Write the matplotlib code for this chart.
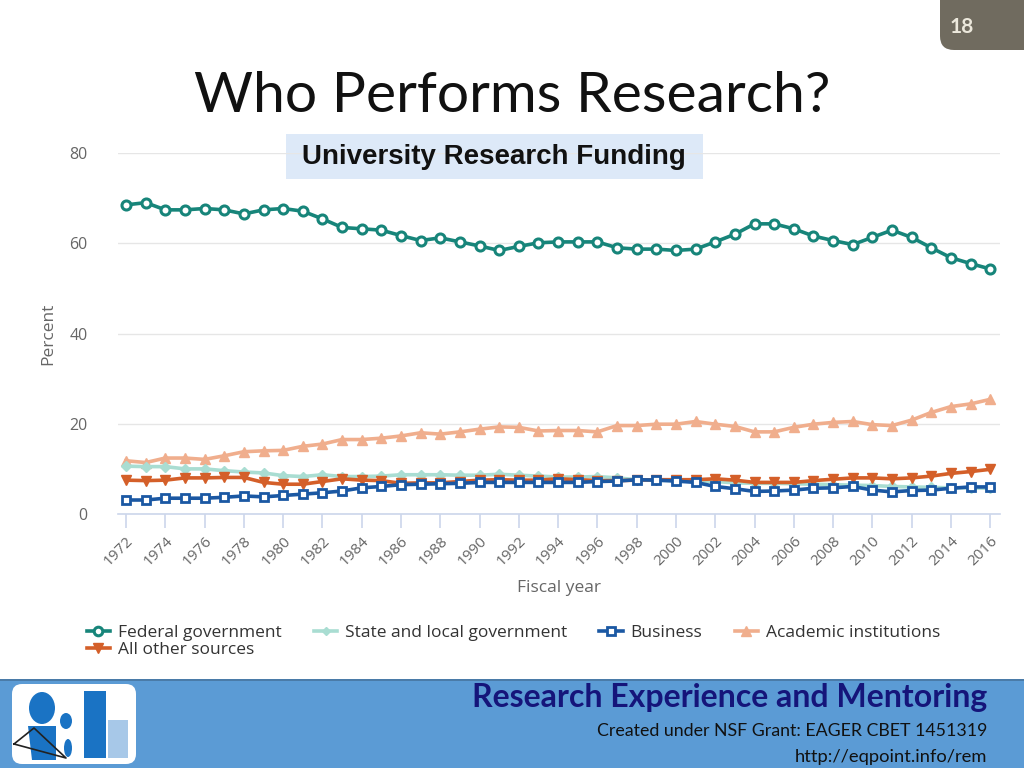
import matplotlib
matplotlib.use("Agg")
import matplotlib.pyplot as plt
from matplotlib.patches import FancyBboxPatch, Rectangle, Ellipse, Polygon

years = list(range(1972, 2017))

federal = [68.5, 69.0, 67.4, 67.4, 67.7, 67.4, 66.5, 67.4, 67.7, 67.1,
           65.4, 63.5, 63.2, 62.9, 61.7, 60.6, 61.2, 60.3, 59.4, 58.4,
           59.3, 60.1, 60.3, 60.3, 60.3, 59.0, 58.7, 58.7, 58.4, 58.7,
           60.3, 62.0, 64.3, 64.3, 63.2, 61.6, 60.6, 59.7, 61.3, 62.9,
           61.3, 59.0, 56.8, 55.5, 54.3]
state_local = [10.6, 10.5, 10.5, 10.0, 10.0, 9.6, 9.3, 9.1, 8.5, 8.3,
               8.7, 8.3, 8.3, 8.4, 8.7, 8.7, 8.7, 8.6, 8.6, 8.8,
               8.6, 8.4, 8.2, 8.2, 8.3, 8.0, 7.6, 7.5, 7.4, 7.3,
               7.2, 6.9, 6.8, 6.8, 6.7, 6.6, 6.5, 6.4, 6.3, 6.1,
               6.0, 5.9, 5.8, 5.8, 5.7]
business = [3.1, 3.1, 3.5, 3.5, 3.5, 3.7, 4.0, 3.8, 4.1, 4.4,
            4.7, 5.1, 5.8, 6.1, 6.5, 6.6, 6.7, 6.8, 7.0, 7.0,
            7.0, 7.0, 7.0, 7.0, 7.2, 7.3, 7.6, 7.5, 7.3, 7.0,
            6.1, 5.6, 5.0, 5.1, 5.3, 5.7, 5.8, 6.1, 5.3, 4.9,
            5.2, 5.3, 5.7, 6.0, 6.0]
academic = [11.8, 11.4, 12.4, 12.4, 12.1, 12.9, 13.8, 14.0, 14.1, 15.0,
            15.5, 16.5, 16.5, 16.8, 17.3, 18.0, 17.7, 18.2, 18.8, 19.3,
            19.2, 18.4, 18.5, 18.5, 18.2, 19.6, 19.6, 19.9, 19.9, 20.5,
            19.9, 19.4, 18.2, 18.2, 19.2, 19.9, 20.3, 20.5, 19.8, 19.6,
            20.8, 22.5, 23.8, 24.4, 25.4]
other = [7.5, 7.4, 7.5, 8.0, 8.0, 8.1, 8.1, 7.0, 6.6, 6.6,
         7.2, 7.8, 7.5, 7.4, 6.8, 6.9, 6.9, 7.2, 7.5, 7.6,
         7.5, 7.5, 7.8, 7.6, 7.4, 7.4, 7.5, 7.6, 7.6, 7.6,
         7.8, 7.5, 7.0, 7.0, 7.0, 7.4, 7.7, 8.0, 8.0, 7.8,
         8.0, 8.4, 9.0, 9.4, 9.9]

series_names = ["Federal government", "State and local government", "Business",
                "Academic institutions", "All other sources"]
tick_years = list(range(1972, 2017, 2))
y_ticks = [0, 20, 40, 60, 80]

title = "Who Performs Research?"
subtitle = "University Research Funding"
page_no = "18"
footer1 = "Research Experience and Mentoring"
footer2 = "Created under NSF Grant: EAGER CBET 1451319"
footer3 = "http://eqpoint.info/rem"

c_fed = "#17857a"
c_state = "#a9ddd2"
c_bus = "#1b58a3"
c_acad = "#f0ae8d"
c_other = "#d45f29"

fig = plt.figure(figsize=(10.24, 7.68), dpi=100)
fig.patch.set_facecolor("white")

# decoration layer in pixel coordinates
deco = fig.add_axes([0, 0, 1, 1], zorder=0)
deco.set_xlim(0, 1024)
deco.set_ylim(768, 0)
deco.axis("off")

ax = fig.add_axes([118 / 1024, 1 - 514 / 768, 882 / 1024, 361 / 768], zorder=2)
ax.patch.set_alpha(0)
lw = 2.6
ax.plot(years, academic, color=c_acad, lw=lw, marker="^", ms=7.5, mfc=c_acad, mec=c_acad, zorder=3, label=series_names[3])
ax.plot(years, state_local, color=c_state, lw=lw, marker="D", ms=4.8, mfc=c_state, mec=c_state, zorder=3, label=series_names[1])
ax.plot(years, other, color=c_other, lw=lw, marker="v", ms=7.5, mfc=c_other, mec=c_other, zorder=4, label=series_names[4])
ax.plot(years, business, color=c_bus, lw=lw, marker="s", ms=5.5, mfc="white", mec=c_bus, mew=2, zorder=5, label=series_names[2])
ax.plot(years, federal, color=c_fed, lw=lw, marker="o", ms=6.5, mfc="white", mec=c_fed, mew=2.2, zorder=5, label=series_names[0])

ax.set_xlim(1971.59, 2016.5)
ax.set_ylim(0, 80)
ax.set_yticks(y_ticks)
ax.set_xticks(tick_years)
ax.set_xticklabels([str(y) for y in tick_years], rotation=45, ha="right", rotation_mode="anchor",
                   fontsize=11, color="#666666", family="Open Sans")
ax.set_yticklabels([str(v) for v in y_ticks], fontsize=11.5, color="#666666", family="Open Sans")
ax.grid(axis="y", color="#e6e6e6", lw=1)
ax.set_axisbelow(True)
for s in ["top", "right", "left"]:
    ax.spines[s].set_visible(False)
ax.spines["bottom"].set_color("#ccd6eb")
ax.spines["bottom"].set_linewidth(1.2)
ax.tick_params(axis="x", color="#ccd6eb", length=10, width=1.2, pad=4)
ax.tick_params(axis="y", length=0, pad=22)
ax.set_xlabel("Fiscal year", fontsize=12.5, color="#666666", family="Open Sans", labelpad=8)
ax.set_ylabel("Percent", fontsize=12.5, color="#666666", family="Open Sans", labelpad=9)

# legend
h = {l.get_label(): l for l in ax.get_lines()}
order = [series_names[0], series_names[4], series_names[1], series_names[2], series_names[3]]
fig.legend([h[n] for n in order], order, loc="upper left", bbox_to_anchor=(78 / 1024, 1 - 616 / 768),
           ncol=4, frameon=False, borderpad=0, handlelength=1.35, handletextpad=0.45,
           columnspacing=1.85, labelspacing=0.05, markerscale=0.95,
           prop={"family": "Open Sans", "size": 12.5}, labelcolor="#333333")

# title and subtitle
fig.text(512 / 1024, 1 - 97 / 768, title, ha="center", va="center", fontsize=41, family="Lato", color="#111111")
deco.add_patch(Rectangle((286, 134), 417, 45, facecolor="#dde9f8", edgecolor="none"))
fig.text(494 / 1024, 1 - 157 / 768, subtitle, ha="center", va="center", fontsize=20, weight="bold",
         family="Liberation Sans", color="#111111", zorder=3)

# page number tab
deco.add_patch(FancyBboxPatch((940, -30), 120, 80, boxstyle="round,pad=0,rounding_size=14",
                              facecolor="#706b5f", edgecolor="none"))
fig.text(962 / 1024, 1 - 27 / 768, page_no, ha="center", va="center", fontsize=15, weight="bold",
         family="Lato", color="#ece8dc")

# footer band
deco.add_patch(Rectangle((0, 680), 1024, 88, facecolor="#5b9bd5", edgecolor="none"))
deco.add_patch(Rectangle((0, 679), 1024, 2, facecolor="#4a7ba8", edgecolor="none"))
fig.text(987 / 1024, 1 - 697 / 768, footer1, ha="right", va="center", fontsize=23, weight="bold",
         family="Lato", color="#15157a")
fig.text(987 / 1024, 1 - 731 / 768, footer2, ha="right", va="center", fontsize=12.8, family="Lato", color="#111111")
fig.text(987 / 1024, 1 - 757 / 768, footer3, ha="right", va="center", fontsize=13.2, family="Lato", color="#111111")

# logo
deco.add_patch(FancyBboxPatch((12, 684), 124, 80, boxstyle="round,pad=0,rounding_size=10",
                              facecolor="white", edgecolor="none"))
deco.add_patch(Rectangle((84, 691), 22, 67, facecolor="#1a73c4", edgecolor="none"))
deco.add_patch(Rectangle((108, 720), 20, 38, facecolor="#a7c8e8", edgecolor="none"))
deco.add_patch(Ellipse((42, 708), 26, 32, facecolor="#1a73c4", edgecolor="none"))
deco.add_patch(Polygon([(28, 726), (56, 726), (56, 760), (32, 760)], closed=True,
                       facecolor="#1a73c4", edgecolor="none"))
deco.add_patch(Ellipse((66, 721), 12, 16, facecolor="#1a73c4", edgecolor="none"))
deco.add_patch(Ellipse((68, 748), 8, 18, facecolor="#1a73c4", edgecolor="none"))
deco.plot([14, 34, 66, 14], [744, 728, 758, 744], color="#222222", lw=1.2)

fig.savefig("out.png", dpi=100, facecolor="white")
